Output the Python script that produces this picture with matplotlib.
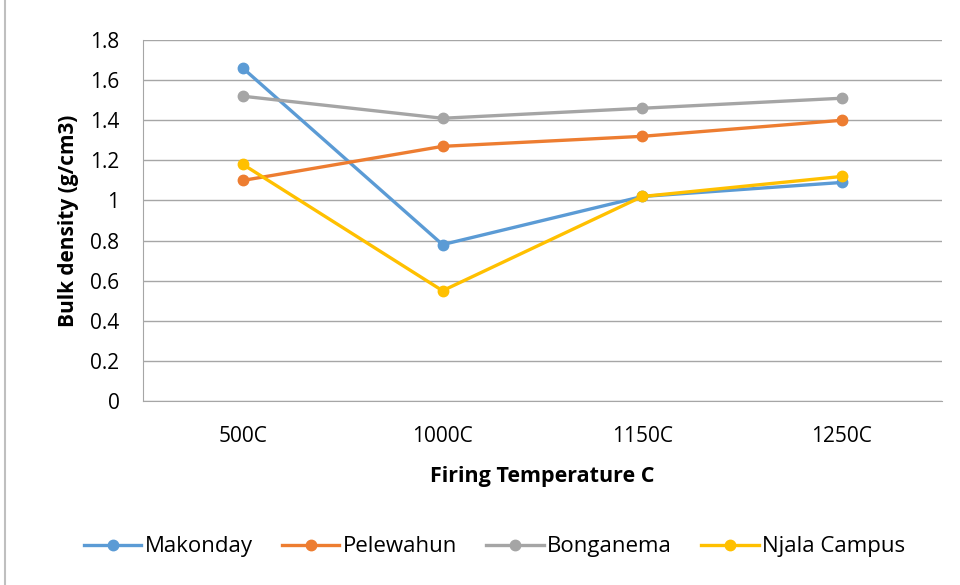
import matplotlib.pyplot as plt
from matplotlib.patches import Rectangle

plt.rcParams['font.family'] = ['Open Sans', 'DejaVu Sans']

#chart data
temps = ["500C", "1000C", "1150C", "1250C"]
makonday = [1.66, 0.78, 1.02, 1.09]
pelewahun = [1.10, 1.27, 1.32, 1.40]
bonganema = [1.52, 1.41, 1.46, 1.51]
njala = [1.18, 0.55, 1.02, 1.12]

series = [
    ("Makonday", makonday, "#5B9BD5"),
    ("Pelewahun", pelewahun, "#ED7D31"),
    ("Bonganema", bonganema, "#A5A5A5"),
    ("Njala Campus", njala, "#FFC000"),
]

fig = plt.figure(figsize=(9.6, 5.85), dpi=100)
ax = fig.add_axes([0.149, 0.3145, 0.832, 0.617])

x = range(len(temps))
for name, vals, col in series:
    ax.plot(x, vals, color=col, linewidth=2.4, marker="o", markersize=7.5, label=name)

ax.set_xlim(-0.5, len(temps) - 0.5)
ax.set_ylim(0, 1.8)
ax.set_yticks([0, 0.2, 0.4, 0.6, 0.8, 1, 1.2, 1.4, 1.6, 1.8])
ax.set_yticklabels(["0", "0.2", "0.4", "0.6", "0.8", "1", "1.2", "1.4", "1.6", "1.8"])
ax.set_xticks(list(x))
ax.set_xticklabels(temps)
ax.tick_params(axis="both", length=0, labelsize=15)
ax.tick_params(axis="y", pad=17)
ax.tick_params(axis="x", pad=18)
ax.grid(axis="y", color="#A6A6A6", linewidth=1)
ax.set_axisbelow(True)
for s in ["top", "right"]:
    ax.spines[s].set_visible(False)
ax.spines["left"].set_color("#A6A6A6")
ax.spines["bottom"].set_color("#A6A6A6")

ax.set_xlabel("Firing Temperature C", fontsize=15.5, fontweight="bold", labelpad=14)
ax.set_ylabel("Bulk density (g/cm3)", fontsize=15, fontweight="bold", labelpad=8)

fig.legend(loc="center", bbox_to_anchor=(0.515, 0.065), ncol=4, frameon=False,
           fontsize=16, handlelength=2.6, handletextpad=0.15, columnspacing=1.3)

# outer chart border
fig.patches.append(Rectangle((0.005, -0.01), 1.2, 1.2, transform=fig.transFigure,
                             fill=False, edgecolor="#BFBFBF", linewidth=1.5))

fig.savefig("out.png", dpi=100)
